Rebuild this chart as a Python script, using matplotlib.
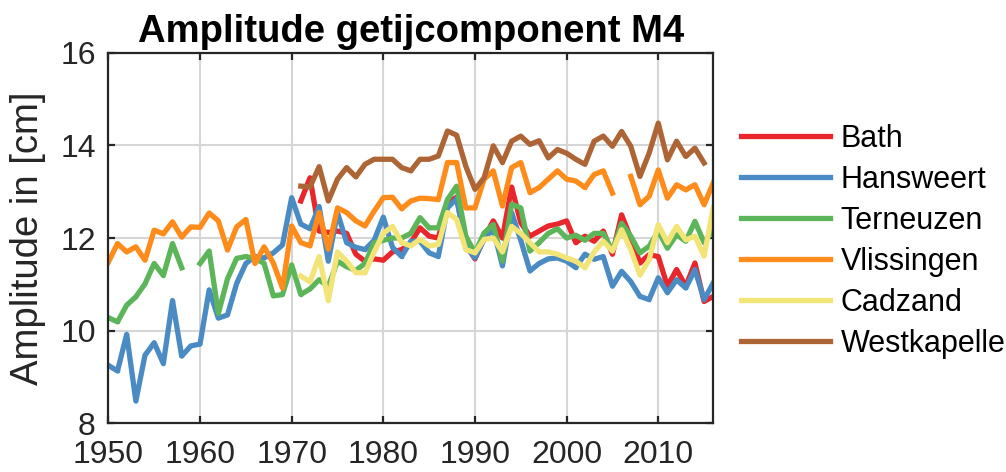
import numpy as np
import matplotlib
matplotlib.use('Agg')
import matplotlib.pyplot as plt

nan = np.nan

# jaren per reeks
jaren_lang = np.arange(1950, 2017)   # Hansweert, Terneuzen, Vlissingen
jaren_kort = np.arange(1971, 2017)   # Bath, Cadzand
jaren_wk = np.arange(1971, 2016)     # Westkapelle

bath = [12.8, 13.3, 12.15, 12.12, 12.15, 12.1, 11.65, 11.5, 11.55, 11.52,
        11.7, 11.75, 11.9, 12.22, 12.04, 12.0, 12.76, 12.88, 11.85, 11.55,
        12.0, 12.37, 12.0, 13.1, 12.33, 12.04, 12.15, 12.26, 12.3, 12.37,
        11.9, 12.04, 11.93, 12.15, 11.65, 12.5, 12.0, 11.46, 11.64, 11.6,
        10.96, 11.32, 10.96, 11.46, 10.63, 10.74]

hansweert = [9.25, 9.13, 9.92, 8.48, 9.47, 9.74, 9.29, 10.65, 9.45, 9.67,
             9.71, 10.88, 10.27, 10.34, 11.02, 11.45, 11.6, 11.57, 11.68, 11.85,
             12.87, 12.3, 12.2, 12.68, 11.5, 12.55, 11.9, 11.8, 11.75, 11.95,
             12.45, 11.8, 11.6, 11.93, 11.93, 11.68, 11.6, 12.65, 12.85, 11.83,
             11.57, 11.97, 12.19, 11.4, 12.55, 11.95, 11.29, 11.45, 11.55, 11.57,
             11.5, 11.36, 11.65, 11.54, 11.6, 10.96, 11.28, 11.06, 10.74, 10.67,
             11.14, 10.82, 11.1, 10.92, 11.32, 10.67, 11.03]

terneuzen = [10.28, 10.19, 10.55, 10.73, 11.01, 11.45, 11.19, 11.88, 11.36, nan,
             11.45, 11.72, 10.37, 11.12, 11.56, 11.6, 11.56, 11.45, 10.75, 10.78,
             11.42, 10.78, 10.9, 11.1, 10.95, 11.5, 11.38, 11.3, 11.45, 11.9,
             11.95, 12.0, 12.0, 12.1, 12.44, 12.22, 12.22, 12.83, 13.12, 12.04,
             11.68, 12.11, 12.29, 11.5, 12.73, 12.65, 11.72, 11.9, 12.1, 12.2,
             12.0, 12.06, 11.95, 12.1, 12.1, 11.72, 12.32, 12.04, 11.68, 11.82,
             12.15, 11.78, 12.07, 11.93, 12.36, 11.9, 12.18]

vlissingen = [11.48, 11.88, 11.7, 11.81, 11.52, 12.17, 12.09, 12.35, 12.02, 12.24,
              12.23, 12.54, 12.37, 11.74, 12.24, 12.4, 11.45, 11.81, 11.46, 10.92,
              12.26, 11.9, 11.83, 12.55, 11.76, 12.65, 12.55, 12.37, 12.26, 12.58,
              12.87, 12.88, 12.63, 12.8, 12.86, 12.85, 12.83, 13.63, 13.63, 12.65,
              12.65, 13.27, 13.45, 12.69, 13.52, 13.63, 12.98, 13.09, 13.27, 13.45,
              13.27, 13.23, 13.09, 13.37, 13.45, 12.97, nan, 13.33, 12.72, 12.9,
              13.47, 12.86, 13.15, 13.04, 13.15, 12.72, 13.19]

cadzand = [11.18, 11.05, 11.6, 10.65, 11.7, 11.5, 11.25, 11.25, 11.7, 12.1,
           12.25, 11.9, 11.83, 11.97, 11.83, 11.86, 12.55, 12.4, 11.75, 11.68,
           11.97, 12.0, 11.7, 12.25, 12.1, 11.9, 11.7, 11.7, 11.65, 11.57,
           11.5, 11.36, 11.7, 11.93, 11.72, 12.18, 11.75, 11.2, 11.53, 12.29,
           11.9, 12.25, 11.96, 12.04, 11.61, 12.65]

westkapelle = [13.12, 13.1, 13.54, 12.8, 13.27, 13.52, 13.32, 13.59, 13.7, 13.7,
               13.7, 13.52, 13.45, 13.7, 13.7, 13.77, 14.31, 14.22, 13.55, 13.05,
               13.3, 13.99, 13.63, 14.09, 14.2, 14.02, 14.1, 13.73, 13.91, 13.83,
               13.7, 13.59, 14.09, 14.2, 13.98, 14.3, 13.98, 13.33, 13.83, 14.48,
               13.69, 14.09, 13.76, 13.94, 13.62]

reeksen = [
    ('Bath', jaren_kort, bath, '#e8262b'),
    ('Hansweert', jaren_lang, hansweert, '#4a8bc4'),
    ('Terneuzen', jaren_lang, terneuzen, '#5db55a'),
    ('Vlissingen', jaren_lang, vlissingen, '#ff8c1a'),
    ('Cadzand', jaren_kort, cadzand, '#f2e477'),
    ('Westkapelle', jaren_wk, westkapelle, '#ae6535'),
]

plt.rcParams['font.family'] = ['Liberation Sans', 'DejaVu Sans']

fig = plt.figure(figsize=(10.06, 4.72), dpi=100)
ax = fig.add_axes([0.1077, 0.1032, 0.6013, 0.7851])

for naam, x, y, kleur in reeksen:
    ax.plot(x, y, color=kleur, lw=3.8, marker='.', markersize=3,
            label=naam, solid_joinstyle='round')

ax.set_xlim(1950, 2016)
ax.set_ylim(8, 16)
ax.set_xticks(range(1950, 2011, 10))
ax.set_yticks(range(8, 17, 2))
ax.grid(True, color='#d6d6d6', lw=1.5)
ax.set_axisbelow(True)

for s in ax.spines.values():
    s.set_color('#262626')
    s.set_linewidth(1.6)
ax.tick_params(direction='in', length=5, width=1.6, colors='#262626',
               labelsize=23, top=True, right=True)
ax.tick_params(axis='x', pad=12)
ax.tick_params(axis='y', pad=9)

ax.set_ylabel('Amplitude in [cm]', fontsize=27.5, color='#262626', labelpad=10)
ax.set_title('Amplitude getijcomponent M4', fontsize=27.5, fontweight='bold',
             pad=8)

fig.legend(loc='upper left', bbox_to_anchor=(0.737, 0.738), frameon=False,
           fontsize=22, handlelength=2.9, handletextpad=0.35,
           labelspacing=0.36, borderpad=0, borderaxespad=0)

fig.savefig('out.png', dpi=100)
